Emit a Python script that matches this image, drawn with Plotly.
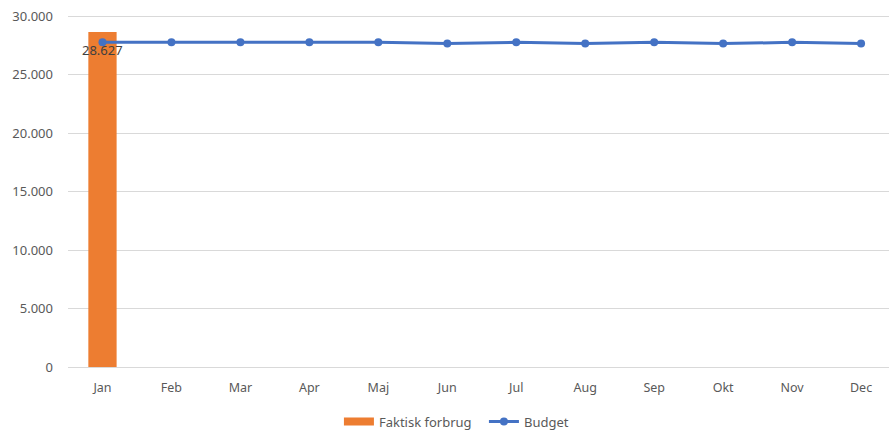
import plotly.graph_objects as go

months = ["Jan", "Feb", "Mar", "Apr", "Maj", "Jun", "Jul", "Aug", "Sep", "Okt", "Nov", "Dec"]
actual_months = ["Jan"]
actual_values = [28627]
budget_values = [27750, 27750, 27750, 27750, 27750, 27650, 27750, 27650, 27750, 27650, 27750, 27650]
y_ticks = [0, 5000, 10000, 15000, 20000, 25000, 30000]

font_family = "Noto Sans, Liberation Sans, sans-serif"
bar_color = "#ED7D31"
line_color = "#4472C4"

fig = go.Figure()
fig.add_trace(go.Bar(
    x=actual_months, y=actual_values, name="Faktisk forbrug",
    marker=dict(color=bar_color, line=dict(width=0)), showlegend=False,
))
# legend-only entry to get the wide Excel-style swatch
fig.add_trace(go.Scatter(
    x=[None], y=[None], name="Faktisk forbrug", mode="lines",
    line=dict(color=bar_color, width=8),
))
fig.add_trace(go.Scatter(
    x=months, y=budget_values, name="Budget", mode="lines+markers",
    line=dict(color=line_color, width=3),
    marker=dict(color=line_color, size=8),
))
fig.add_annotation(
    x=actual_months[0], y=actual_values[0], text="28.627",
    showarrow=False, yanchor="middle", yshift=-18,
    font=dict(family=font_family, size=13, color="#404040"),
)

fig.update_layout(
    width=889, height=432,
    margin=dict(l=67.5, r=0, t=14.95, b=64.5, autoexpand=False),
    paper_bgcolor="white", plot_bgcolor="white",
    separators=",.",
    bargap=0.59,
    font=dict(family=font_family, size=12, color="#595959"),
    showlegend=True,
    legend=dict(orientation="h", x=0.33, xanchor="left", y=-0.155, yanchor="middle",
                entrywidth=100, entrywidthmode="pixels",
                font=dict(size=13, color="#595959"), traceorder="normal"),
)
fig.update_xaxes(
    categoryorder="array", categoryarray=months, automargin=False,
    range=[-0.5, 11.405], showgrid=False, showline=True, linecolor="#D9D9D9", linewidth=1,
    ticks="", ticklabelstandoff=9, tickfont=dict(size=12.5, color="#595959"),
    ticklabeloverflow="allow",
)
fig.update_yaxes(
    range=[0, 30090], tickvals=y_ticks, tickformat=",d", automargin=False,
    showgrid=True, gridcolor="#D9D9D9", gridwidth=1, zeroline=False,
    showline=False, ticks="", ticklabelstandoff=14,
    tickfont=dict(size=13, color="#595959"), ticklabeloverflow="allow",
)

# remove the browser's default 8px body margin so the figure fills the window
fig.write_html("out.html", config={"displayModeBar": False},
               post_script="document.body.style.margin='0';")
